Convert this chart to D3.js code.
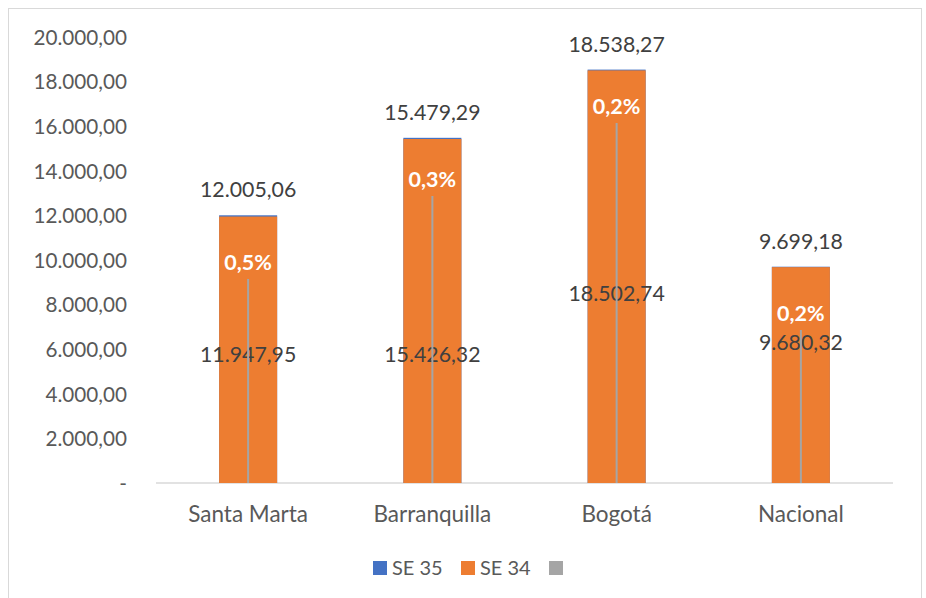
<!DOCTYPE html>
<html>
<head>
<meta charset="utf-8">
<title>SE 34 vs SE 35</title>
<script src="https://cdn.jsdelivr.net/npm/d3@7"></script>
<style>
  body { margin: 0; background: #fff; }
  text { font-family: Lato, "Open Sans", sans-serif; }
</style>
</head>
<body>
<script>
// datos
var categorias = ["Santa Marta", "Barranquilla", "Bogotá", "Nacional"];
var se35 = [12005.06, 15479.29, 18538.27, 9699.18];
var se34 = [11947.95, 15426.32, 18502.74, 9680.32];
var variacion = ["0,5%", "0,3%", "0,2%", "0,2%"];
var serieGris = [9150, 12870, 16140, 6860];
// posición de las etiquetas de SE 34, en unidades del eje
var etiquetaSe34 = [5750, 5750, 8480, 6300];
var ticks = [0, 2000, 4000, 6000, 8000, 10000, 12000, 14000, 16000, 18000, 20000];

var width = 926, height = 598;
var margin = {left: 156, right: 33, top: 37, bottom: 115};

var svg = d3.select("body").append("svg")
  .attr("width", width)
  .attr("height", height);

svg.append("rect")
  .attr("x", 8.5).attr("y", 8.5)
  .attr("width", 913).attr("height", 600)
  .attr("fill", "none").attr("stroke", "#d9d9d9");

var x = d3.scaleBand()
  .domain(categorias)
  .range([margin.left, width - margin.right])
  .paddingInner(0.685).paddingOuter(0.3425);

var y = d3.scaleLinear()
  .domain([0, 20000])
  .range([height - margin.bottom, margin.top]);

var fmt = d3.formatLocale({decimal: ",", thousands: ".", grouping: [3], currency: ["$", ""]}).format(",.2f");

// eje Y
var yAxis = d3.axisLeft(y)
  .tickValues(ticks)
  .tickSize(0)
  .tickPadding(0)
  .tickFormat(function(d) { return d === 0 ? "-" : fmt(d); });

var gy = svg.append("g")
  .attr("transform", "translate(127,0)")
  .call(yAxis);
gy.select(".domain").remove();
gy.selectAll("text")
  .attr("fill", "#595959")
  .attr("font-size", "20.7px")
  .attr("dy", "0.35em");

// eje X
var xAxis = d3.axisBottom(x).tickSize(0).tickPadding(23);
var gx = svg.append("g")
  .attr("transform", "translate(0," + y(0) + ")")
  .call(xAxis);
gx.select(".domain").attr("stroke", "#d9d9d9").attr("stroke-width", 1.5)
  .attr("d", "M" + margin.left + ",0H" + (width - margin.right));
gx.selectAll("text")
  .attr("fill", "#595959")
  .attr("font-size", "22.5px");

// barras SE 35 (detrás)
svg.selectAll(".b35")
  .data(se35)
  .enter().append("rect")
  .attr("x", function(d, i) { return x(categorias[i]); })
  .attr("y", function(d) { return y(d); })
  .attr("width", x.bandwidth())
  .attr("height", function(d) { return y(0) - y(d); })
  .attr("fill", "#4472C4");

// barras SE 34
svg.selectAll(".b34")
  .data(se34)
  .enter().append("rect")
  .attr("x", function(d, i) { return x(categorias[i]); })
  .attr("y", function(d) { return y(d); })
  .attr("width", x.bandwidth())
  .attr("height", function(d) { return y(0) - y(d); })
  .attr("fill", "#ED7D31");

// etiquetas SE 35
svg.selectAll(".l35")
  .data(se35)
  .enter().append("text")
  .attr("x", function(d, i) { return x(categorias[i]) + x.bandwidth() / 2; })
  .attr("y", function(d) { return y(d) - 18; })
  .attr("text-anchor", "middle")
  .attr("fill", "#404040")
  .attr("font-size", "21.3px")
  .text(function(d) { return fmt(d); });

// etiquetas SE 34
svg.selectAll(".l34")
  .data(se34)
  .enter().append("text")
  .attr("x", function(d, i) { return x(categorias[i]) + x.bandwidth() / 2; })
  .attr("y", function(d, i) { return y(etiquetaSe34[i]); })
  .attr("dy", "0.35em")
  .attr("text-anchor", "middle")
  .attr("fill", "#404040")
  .attr("font-size", "21.3px")
  .text(function(d) { return fmt(d); });

// serie gris (línea fina)
svg.selectAll(".gris")
  .data(serieGris)
  .enter().append("line")
  .attr("x1", function(d, i) { return x(categorias[i]) + x.bandwidth() / 2; })
  .attr("x2", function(d, i) { return x(categorias[i]) + x.bandwidth() / 2; })
  .attr("y1", y(0))
  .attr("y2", function(d) { return y(d); })
  .attr("stroke", "#A5A5A5")
  .attr("stroke-width", 2);

// etiquetas de variación
svg.selectAll(".pct")
  .data(variacion)
  .enter().append("text")
  .attr("x", function(d, i) { return x(categorias[i]) + x.bandwidth() / 2; })
  .attr("y", function(d, i) { return y(serieGris[i]) - 9; })
  .attr("text-anchor", "middle")
  .attr("fill", "#ffffff")
  .attr("font-weight", "bold")
  .attr("font-size", "21.5px")
  .text(function(d) { return d; });

// leyenda
var leyenda = [
  {nombre: "SE 35", color: "#4472C4"},
  {nombre: "SE 34", color: "#ED7D31"},
  {nombre: "", color: "#A5A5A5"}
];
var lg = svg.selectAll(".ley")
  .data(leyenda)
  .enter().append("g")
  .attr("transform", function(d, i) { return "translate(" + (373 + i * 88) + ",561)"; });
lg.append("rect")
  .attr("width", 14).attr("height", 14)
  .attr("fill", function(d) { return d.color; });
lg.append("text")
  .attr("x", 19).attr("y", 7)
  .attr("dy", "0.35em")
  .attr("fill", "#595959")
  .attr("font-size", "20px")
  .text(function(d) { return d.nombre; });
</script>
</body>
</html>
